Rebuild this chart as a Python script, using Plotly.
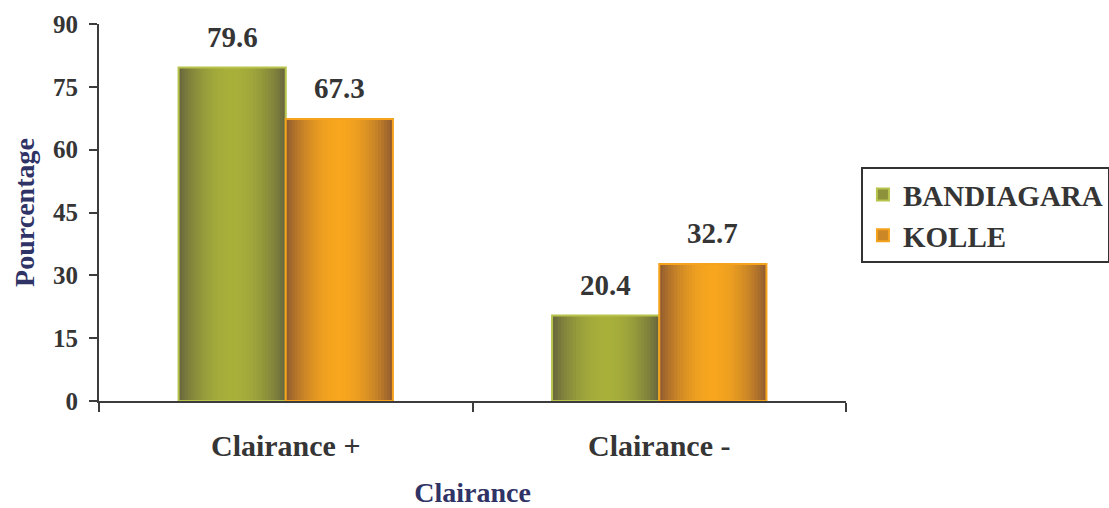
import numpy as np
import plotly.graph_objects as go

categories = ["Clairance +", "Clairance -"]
bandiagara = [79.6, 20.4]
kolle = [67.3, 32.7]
series_names = ["BANDIAGARA", "KOLLE"]
y_ticks = [0, 15, 30, 45, 60, 75, 90]

# style
FONT = "Liberation Serif, Times New Roman, serif"
TXT = "#353535"
TITLE = "#2f3366"
BW = 0.287
NSLICE = 36
styles = [
    dict(edge=(100, 98, 62), center=(168, 176, 58), line="#b7c44c", offset=-BW),
    dict(edge=(138, 86, 50), center=(247, 166, 30), line="#f5a21c", offset=0.0),
]

def mix(c1, c2, f):
    return "rgb(%d,%d,%d)" % tuple(round(a + (b - a) * f) for a, b in zip(c1, c2))

fig = go.Figure()
for vals, name, st in zip([bandiagara, kolle], series_names, styles):
    w = BW / NSLICE
    for k in range(NSLICE):
        t = (k + 0.5) / NSLICE
        f = np.sin(np.pi * t) ** 0.8
        fig.add_trace(go.Bar(
            x=categories, y=vals, width=BW - k * w, offset=st["offset"] + k * w,
            marker=dict(color=mix(st["edge"], st["center"], f), line=dict(width=0)),
            showlegend=False, hoverinfo="skip"))
    fig.add_trace(go.Bar(
        x=categories, y=vals, width=BW, offset=st["offset"],
        marker=dict(color="rgba(0,0,0,0)", line=dict(color=st["line"], width=2)),
        showlegend=False, name=name))
    fig.add_trace(go.Bar(
        x=[None], y=[None], name=name,
        marker=dict(color=mix(st["edge"], st["center"], 0.6), line=dict(color=st["line"], width=2)),
        showlegend=True))
    for i, v in enumerate(vals):
        fig.add_annotation(x=i + st["offset"] + BW / 2, y=v, text=f"{v:.1f}",
                           showarrow=False, yanchor="bottom", yshift=13,
                           font=dict(family=FONT, size=29, color=TXT, weight="bold"))

fig.update_layout(
    width=1109, height=508,
    margin=dict(l=99, r=263, t=24, b=107, autoexpand=False),
    barmode="overlay",
    plot_bgcolor="white", paper_bgcolor="white",
    font=dict(family=FONT, color=TXT, weight="bold"),
    legend=dict(x=1.020, y=0.62, xanchor="left", yanchor="top",
                bordercolor="#333333", borderwidth=2, bgcolor="white",
                font=dict(family=FONT, size=29, color=TXT, weight="bold"),
                traceorder="normal"),
    xaxis=dict(
        type="category", range=[-0.5, 1.5],
        tickson="boundaries", ticks="outside", ticklen=9, tickwidth=2, tickcolor="#3c3c3c",
        showline=True, linecolor="#3c3c3c", linewidth=2, showgrid=False, zeroline=False,
        ticklabelstandoff=17,
        tickfont=dict(family=FONT, size=30, color=TXT, weight="bold"),
        title=dict(text="Clairance", standoff=40,
                   font=dict(family=FONT, size=28, color=TITLE, weight="bold")),
    ),
    yaxis=dict(
        range=[0, 90], tickvals=y_ticks, ticks="outside", ticklen=8, tickwidth=2,
        tickcolor="#3c3c3c", showline=True, linecolor="#3c3c3c", linewidth=2,
        showgrid=False, zeroline=False, ticklabelstandoff=6,
        tickfont=dict(family=FONT, size=25, color=TXT, weight="bold"),
        title=dict(text="Pourcentage", standoff=10,
                   font=dict(family=FONT, size=28, color=TITLE, weight="bold")),
    ),
)

fig.write_html("out.html")
